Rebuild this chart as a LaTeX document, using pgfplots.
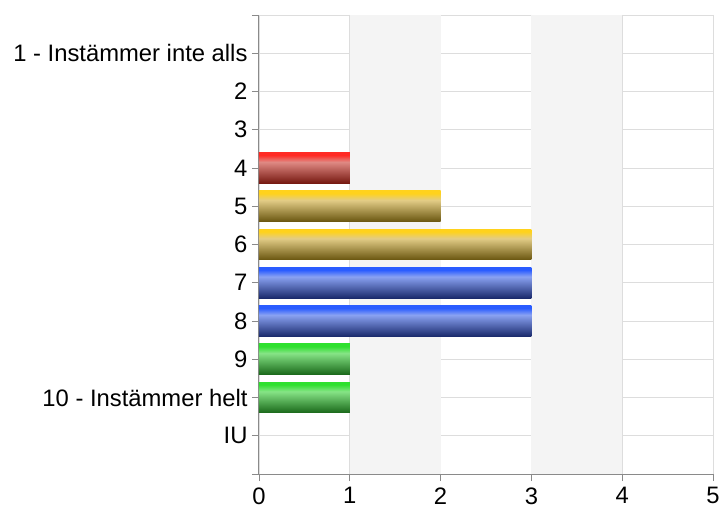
\documentclass[border=0pt]{standalone}
\usepackage{fontspec}
\setmainfont{Liberation Sans}
\usepackage{pgfplots}
\pgfplotsset{compat=1.18}
\definecolor{gridc}{HTML}{DDDDDD}
\definecolor{bandc}{HTML}{F4F4F4}
\definecolor{axc}{HTML}{8A8A8A}
% red
\definecolor{rD}{HTML}{761810}
\definecolor{rL}{HTML}{E08A84}
\definecolor{rT}{HTML}{FF2A24}
% gold
\definecolor{gD}{HTML}{6A5610}
\definecolor{gL}{HTML}{E2CC86}
\definecolor{gT}{HTML}{FFD21C}
% blue
\definecolor{bD}{HTML}{1A2A6C}
\definecolor{bL}{HTML}{8AA2F2}
\definecolor{bT}{HTML}{2A5CFF}
% green
\definecolor{nD}{HTML}{1A681A}
\definecolor{nL}{HTML}{86E486}
\definecolor{nT}{HTML}{2EE02E}
\pgfdeclareverticalshading{redsh}{100bp}{color(0bp)=(rD); color(25bp)=(rD); color(60bp)=(rL); color(71bp)=(rT); color(75bp)=(rT); color(100bp)=(rT)}
\pgfdeclareverticalshading{goldsh}{100bp}{color(0bp)=(gD); color(25bp)=(gD); color(60bp)=(gL); color(71bp)=(gT); color(75bp)=(gT); color(100bp)=(gT)}
\pgfdeclareverticalshading{bluesh}{100bp}{color(0bp)=(bD); color(25bp)=(bD); color(60bp)=(bL); color(71bp)=(bT); color(75bp)=(bT); color(100bp)=(bT)}
\pgfdeclareverticalshading{greensh}{100bp}{color(0bp)=(nD); color(25bp)=(nD); color(60bp)=(nL); color(71bp)=(nT); color(75bp)=(nT); color(100bp)=(nT)}
\pgfplotsset{
  redbar/.style={draw=none, shade, shading=redsh},
  goldbar/.style={draw=none, shade, shading=goldsh},
  bluebar/.style={draw=none, shade, shading=bluesh},
  greenbar/.style={draw=none, shade, shading=greensh},
}
\begin{document}
\begin{tikzpicture}
\pgfplotsset{set layers}
\begin{axis}[
  scale only axis,
  width=454pt, height=459pt,
  xmin=0, xmax=5, ymin=0, ymax=12,
  y dir=reverse,
  xtick={0,1,2,3,4,5},
  ytick={0,1,2,3,4,5,6,7,8,9,10,11,12},
  yticklabels={,1 - Instämmer inte alls,2,3,4,5,6,7,8,9,10 - Instämmer helt,IU,},
  axis x line*=bottom, axis y line*=left,
  axis line style={axc, line width=1pt},
  tick align=outside,
  major tick length=7pt,
  tick style={axc, line width=0.8pt},
  grid=major,
  major grid style={gridc, line width=0.8pt},
  /pgf/number format/assume math mode=true,
  tick label style={font=\fontsize{23.8}{28}\selectfont, text=black},
  xticklabel style={yshift=-3pt},
  yticklabel style={xshift=-1pt},
  xbar, bar width=0.8, bar shift=0pt,
  clip=false,
]
\fill[bandc, on layer=axis background] (axis cs:1,0) rectangle (axis cs:2,12);
\fill[bandc, on layer=axis background] (axis cs:3,0) rectangle (axis cs:4,12);
\addplot[redbar] coordinates {(1,4)};
\addplot[goldbar] coordinates {(2,5)};
\addplot[goldbar] coordinates {(3,6)};
\addplot[bluebar] coordinates {(3,7)};
\addplot[bluebar] coordinates {(3,8)};
\addplot[greenbar] coordinates {(1,9)};
\addplot[greenbar] coordinates {(1,10)};
\end{axis}
\pgfresetboundingbox
\path (current axis.south west) ++(-259pt,-38pt) rectangle ++(721pt,512pt);
\end{tikzpicture}
\end{document}
